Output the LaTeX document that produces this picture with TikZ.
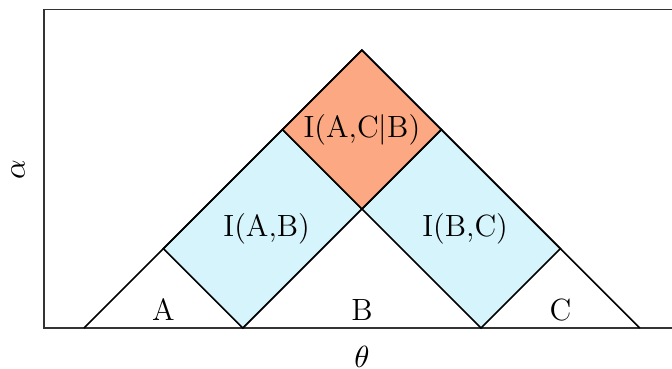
\documentclass[tikz,border=0pt]{standalone}
\usepackage{amsmath,amssymb}
\usepackage{tikz}
\usetikzlibrary{positioning}
\usepackage{xcolor}
\definecolor{infoblue}{RGB}{214,244,252}
\definecolor{infoorange}{RGB}{252,168,130}

\begin{document}
\begin{tikzpicture}[x=1cm, y=1cm,
    region/.style={draw=black, line width=0.6pt, line join=miter},
    lbl/.style={font=\fontsize{11}{13}\selectfont, inner sep=0pt}]
    \useasboundingbox (-1.058,-0.516) rectangle (7.405,4.131);
    % Axes frame (left, top, bottom)
    \draw[line width=0.6pt, black!80] (7.405,4.01) -- (-0.504,4.01) -- (-0.504,0) -- (7.405,0);
    % Mutual information regions
    \filldraw[region, fill=infoblue] (2,0) -- (1,1) -- (2.5,2.5) -- (3.5,1.5) -- cycle;
    \filldraw[region, fill=infoblue] (5,0) -- (3.5,1.5) -- (4.5,2.5) -- (6,1) -- cycle;
    \filldraw[region, fill=infoorange] (3.5,1.5) -- (2.5,2.5) -- (3.5,3.5) -- (4.5,2.5) -- cycle;
    % Outer triangle
    \draw[region] (0,0) -- (3.5,3.5) -- (7,0);
    % Region labels
    \node[lbl] (labA) at (1,0.23) {A};
    \node[lbl] (labB) at (3.5,0.23) {B};
    \node[lbl] (labC) at (6,0.23) {C};
    \node[lbl] (labAB) at (2.3,1.25) {I(A,B)};
    \node[lbl] (labBC) at (4.8,1.25) {I(B,C)};
    \node[lbl] (labACB) at (3.5,2.5) {I(A,C$|$B)};
    % Axis labels
    \node[lbl, rotate=90] (alpha) at (-0.83,2.0) {$\alpha$};
    \node[lbl] (theta) at (3.5,-0.36) {$\theta$};
\end{tikzpicture}
\end{document}
